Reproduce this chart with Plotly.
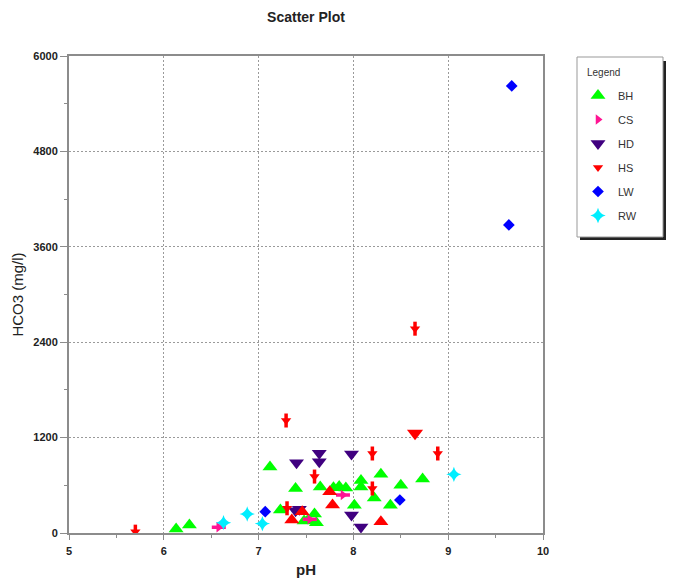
import plotly.graph_objects as go

# ---- data (pH, HCO3 mg/l) ----
bh_ph = [6.13, 6.27, 7.12, 7.23, 7.39, 7.59, 7.52, 7.48, 7.61, 7.65, 7.79, 7.85, 7.92,
         8.01, 8.08, 8.08, 8.22, 8.29, 8.39, 8.50, 8.73]
bh_hco3 = [50, 100, 830, 290, 560, 240, 160, 150, 130, 580, 570, 585, 565,
           350, 660, 580, 440, 740, 350, 600, 680]

cs_ph = [6.58, 7.54, 7.89]
cs_hco3 = [72, 172, 478]

hd_ph = [7.40, 7.64, 7.64, 7.98, 7.39, 7.43, 7.98, 8.08]
hd_hco3 = [884, 1003, 897, 994, 280, 300, 226, 75]

hs_ph = [5.70, 7.29, 8.65, 8.89, 8.20, 8.20, 7.59, 7.30]
hs_hco3 = [17, 1415, 2570, 1000, 1000, 560, 710, 311]

hs_up_ph = [7.35, 7.46, 7.75, 7.78, 8.29]
hs_up_hco3 = [163, 268, 520, 352, 142]
hs_down_ph = [8.65]
hs_down_hco3 = [1254]

lw_ph = [9.67, 9.64, 7.07, 8.49]
lw_hco3 = [5623, 3875, 268, 415]

rw_ph = [6.63, 6.88, 7.04, 9.06]
rw_hco3 = [130, 239, 118, 738]

x_ticks = [5, 6, 7, 8, 9, 10]
y_ticks = [0, 1200, 2400, 3600, 4800, 6000]

FONT = "Liberation Sans, Arial, sans-serif"

fig = go.Figure()

def add(x, y, name, symbol, color, size, legend=True, group=None, lw=0):
    fig.add_trace(go.Scatter(
        x=x, y=y, mode="markers", name=name,
        legendgroup=group, showlegend=legend,
        marker=dict(symbol=symbol, color=color, size=size,
                    line=dict(width=lw, color=color)),
        hoverinfo="x+y+name",
    ))

add(bh_ph, bh_hco3, "BH", "triangle-up", "#00FF00", 13, group="g1")
# CS: shaft + head
add(cs_ph, cs_hco3, "CS", "line-ew", "#FF1493", 10, legend=False, group="g2", lw=3.5)
add(cs_ph, cs_hco3, "CS", "triangle-right", "#FF1493", 9, group="g2")
add(hd_ph, hd_hco3, "HD", "triangle-down", "#400080", 13, group="g3")
add(hs_up_ph, hs_up_hco3, "HS", "triangle-up", "#FF0000", 13, legend=False)
add(hs_down_ph, hs_down_hco3, "HS", "triangle-down", "#FF0000", 14, legend=False)
# HS: shaft + head
add(hs_ph, hs_hco3, "HS", "line-ns", "#FF0000", 10, legend=False, group="g4", lw=3.5)
add(hs_ph, hs_hco3, "HS", "triangle-down", "#FF0000", 9, group="g4")
add(lw_ph, lw_hco3, "LW", "diamond", "#0000FF", 9, group="g5")
add(rw_ph, rw_hco3, "RW", "star-diamond", "#00EEFF", 11, group="g6")

OFF = 8  # page body margin
W, H = 666, 573
PL, PR, PT, PB = 69, 543, 56, 533  # plot box in page pixels
L, R, T, B = PL - OFF, W - (PR - OFF), PT - OFF, H - (PB - OFF)
pw, ph = W - L - R, H - T - B

def px(x):
    return (x - OFF - L) / pw

def py(y):
    return (H - B - (y - OFF)) / ph

axis_common = dict(
    showline=True, linecolor="#8c8c8c", linewidth=2, mirror=True,
    ticks="outside", tickcolor="#8c8c8c", tickwidth=1,
    showgrid=True, gridcolor="#9a9a9a", griddash="2px,2px", gridwidth=1,
    zeroline=False, automargin=False,
    tickfont=dict(family=FONT, size=11, color="#222"),
)

fig.update_layout(
    width=W, height=H,
    margin=dict(l=L, r=R, t=T, b=B),
    paper_bgcolor="white", plot_bgcolor="white",
    font=dict(family=FONT, color="#222"),
    title=dict(text="<b>Scatter Plot</b>", font=dict(family=FONT, size=14, color="#222"),
               x=0.5, xref="paper", xanchor="center",
               y=1 - (17 - OFF) / H, yref="container", yanchor="middle"),
    xaxis=dict(range=[5, 10], tickvals=x_ticks, ticktext=[f"<b>{v}</b>" for v in x_ticks],
               ticklen=5, ticklabelstandoff=2,
               minor=dict(dtick=0.5, tick0=5, ticks="outside", ticklen=3,
                          tickcolor="#8c8c8c", showgrid=False),
               title=dict(text="<b>pH</b>", font=dict(family=FONT, size=15, color="#222"),
                          standoff=8),
               **axis_common),
    yaxis=dict(range=[0, 6000], tickvals=y_ticks, ticktext=[f"<b>{v}</b>" for v in y_ticks],
               ticklen=7,
               minor=dict(dtick=600, tick0=0, ticks="outside", ticklen=3,
                          tickcolor="#8c8c8c", showgrid=False),
               title=dict(text="HCO3 (mg/l)", font=dict(family=FONT, size=15, color="#222"),
                          standoff=6),
               **axis_common),
    legend=dict(
        x=px(578), y=py(81), xanchor="left", yanchor="top",
        bgcolor="rgba(0,0,0,0)", borderwidth=0,
        font=dict(family=FONT, size=11, color="#333"),
        tracegroupgap=5,
    ),
    annotations=[
        dict(text="Legend", xref="paper", yref="paper", x=px(585), y=py(72),
             xanchor="left", yanchor="middle", showarrow=False,
             font=dict(family=FONT, size=10, color="#333")),
    ],
    shapes=[
        dict(type="rect", xref="paper", yref="paper",
             x0=px(580), x1=px(666), y0=py(240), y1=py(61),
             fillcolor="#222", line=dict(width=0), layer="below"),
        dict(type="rect", xref="paper", yref="paper",
             x0=px(577), x1=px(663), y0=py(237), y1=py(57),
             fillcolor="white", line=dict(width=1, color="#999"), layer="below"),
    ],
)

fig.write_html("out.html")
